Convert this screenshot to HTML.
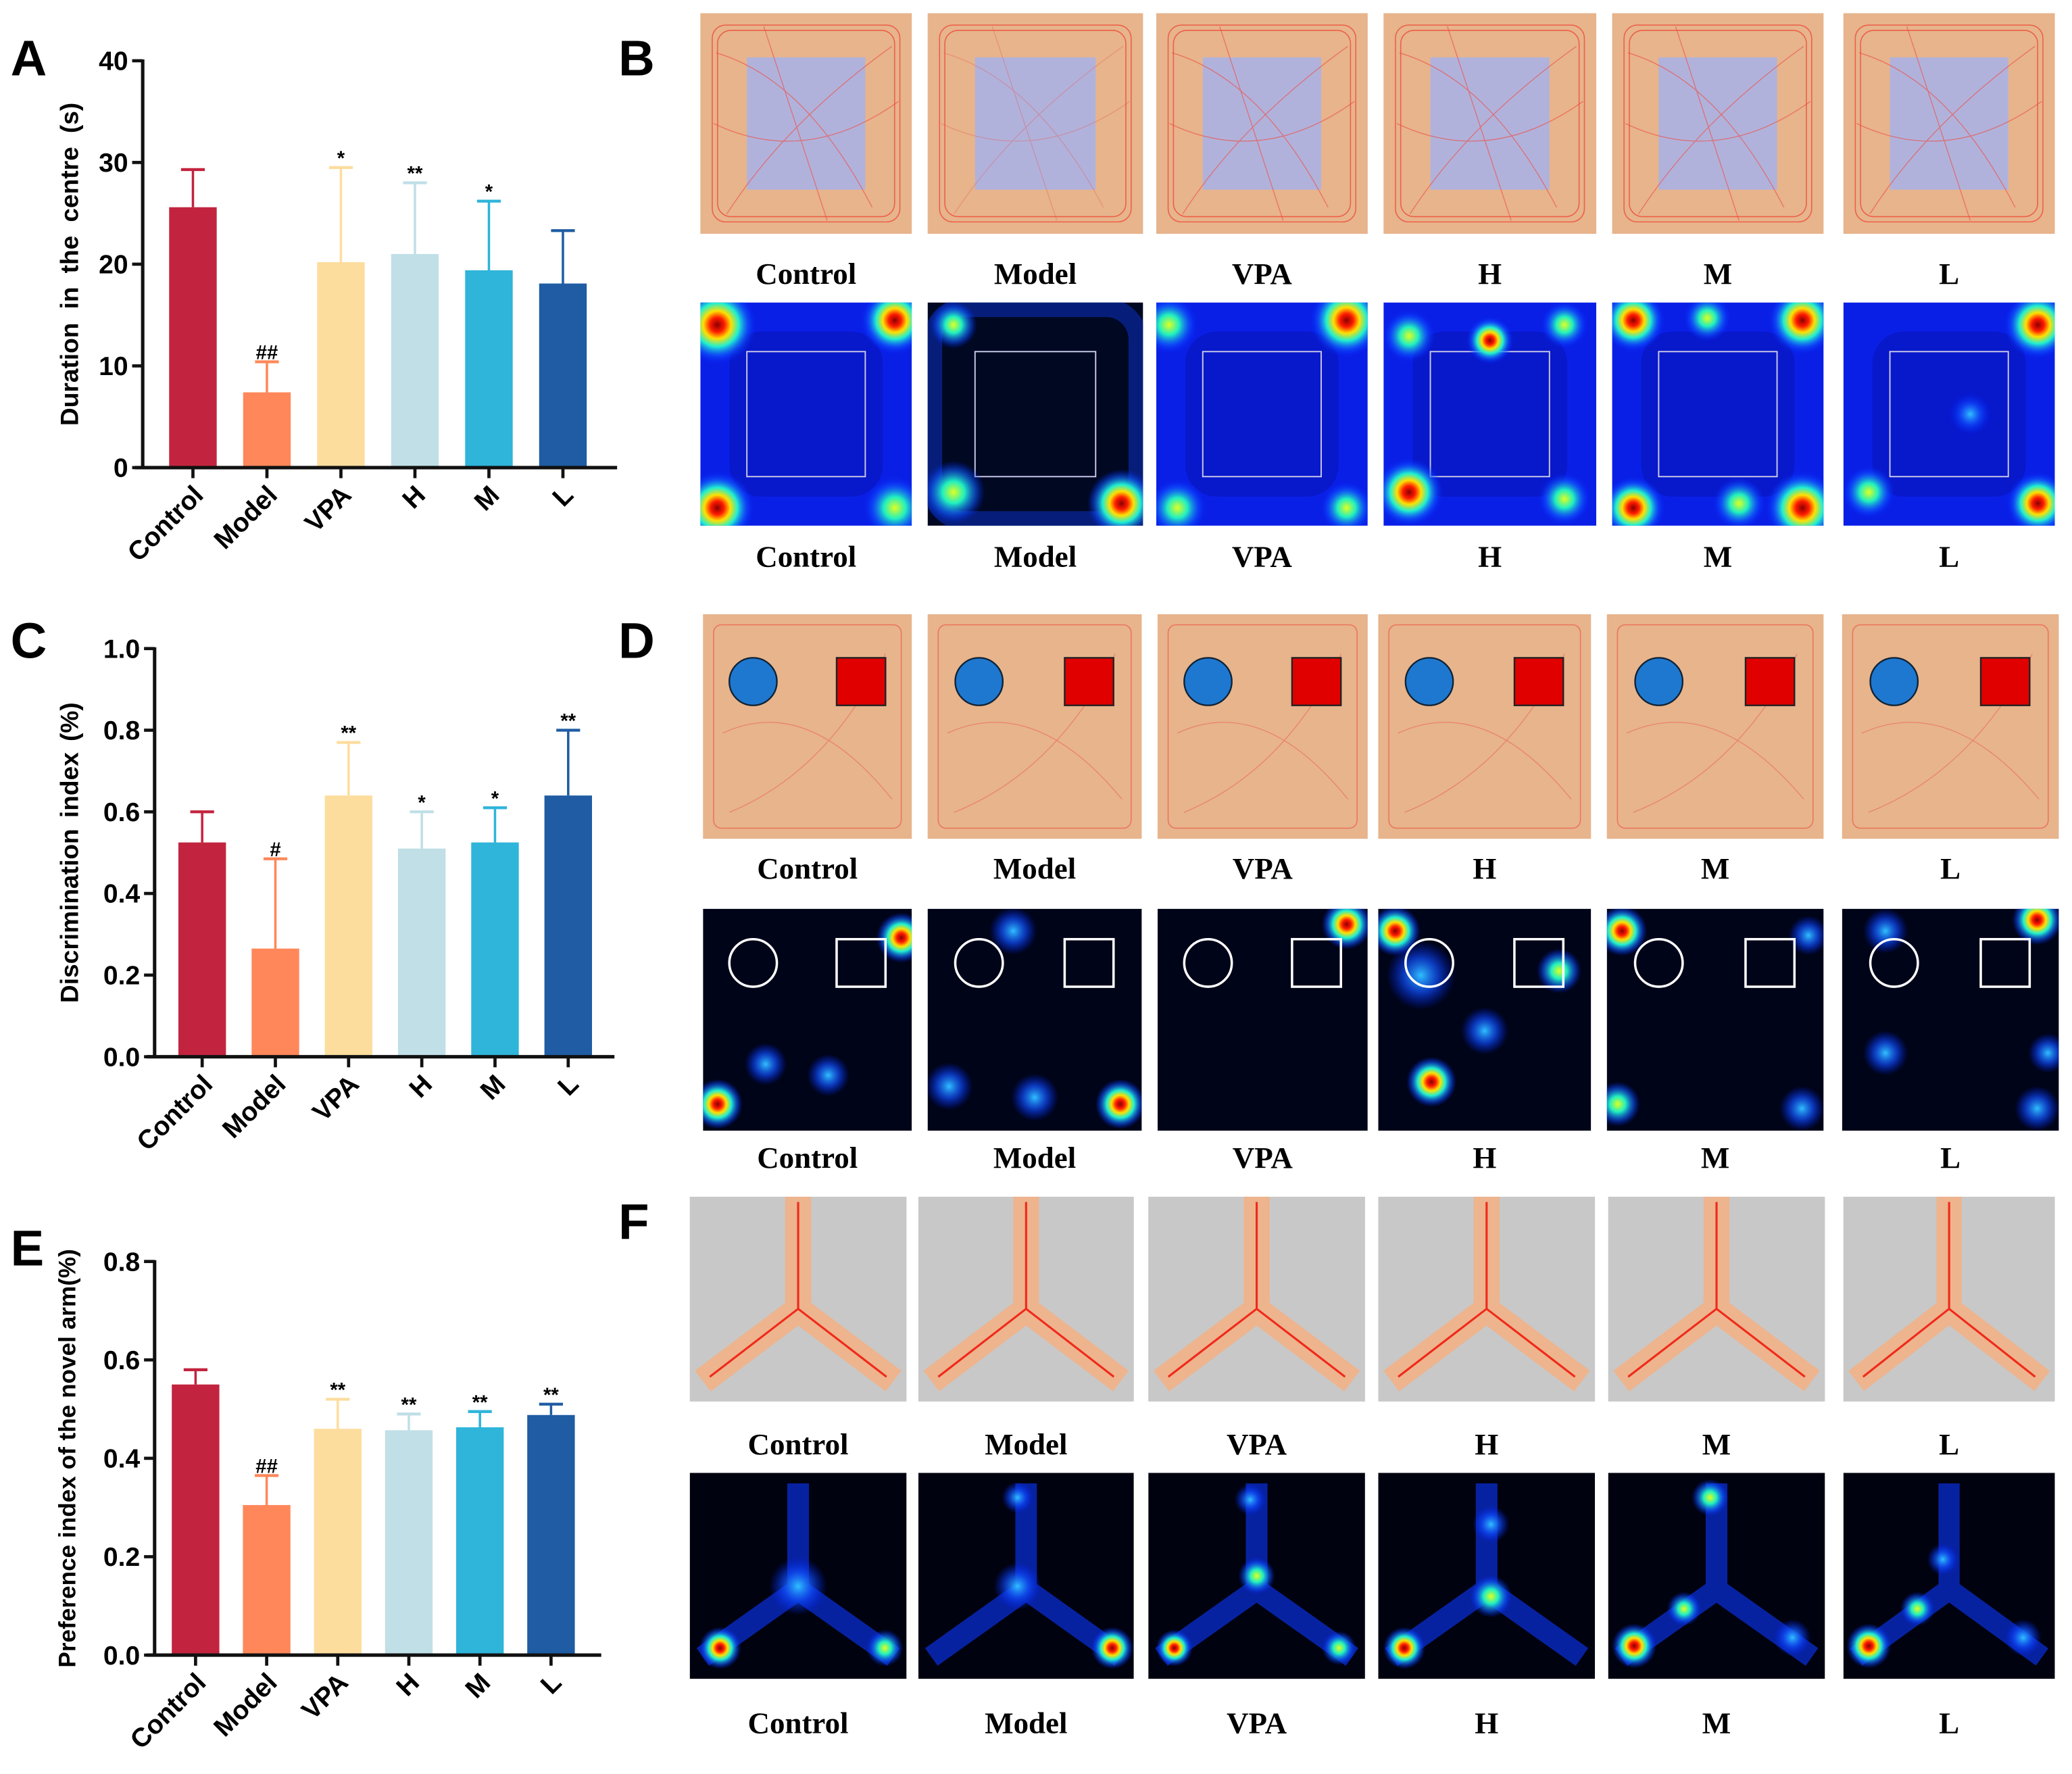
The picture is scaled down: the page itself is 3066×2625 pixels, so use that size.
<!DOCTYPE html>
<html><head><meta charset="utf-8"><style>
html,body{margin:0;padding:0;background:#fff}
svg{display:block}
text{font-family:"Liberation Sans",Arial,sans-serif}
.ser{font-family:"Liberation Serif","Times New Roman",serif;font-weight:bold}
</style></head><body>
<svg id="fig" width="3066" height="2625" viewBox="0 0 1568 1343" preserveAspectRatio="none" xmlns="http://www.w3.org/2000/svg">
<defs>
<radialGradient id="hot">
<stop offset="0" stop-color="#8b0000"/><stop offset="0.18" stop-color="#ff1a00"/><stop offset="0.35" stop-color="#ffe000"/><stop offset="0.55" stop-color="#20f0d0"/><stop offset="0.78" stop-color="#1060ff" stop-opacity="0.6"/><stop offset="1" stop-color="#0020ff" stop-opacity="0"/>
</radialGradient>
<radialGradient id="warm">
<stop offset="0" stop-color="#e0ff20"/><stop offset="0.35" stop-color="#20f0c0"/><stop offset="0.7" stop-color="#1060ff" stop-opacity="0.6"/><stop offset="1" stop-color="#0020ff" stop-opacity="0"/>
</radialGradient>
<radialGradient id="cool">
<stop offset="0" stop-color="#30c0ff"/><stop offset="0.5" stop-color="#1050ff" stop-opacity="0.7"/><stop offset="1" stop-color="#0020ff" stop-opacity="0"/>
</radialGradient>
</defs>
<g id="charts"></g>
<g id="images"></g>
</svg>
<script>
const NS='http://www.w3.org/2000/svg';
const categories=['Control','Model','VPA','H','M','L'];
const colors=['#C2243F','#FF875A','#FDDD9E','#C0DFE6','#2FB4DA','#1F5CA3'];
const aMeans=[25.6,7.4,20.2,21.0,19.4,18.1];
const aErr=[29.3,10.4,29.5,28.0,26.2,23.3];
const aSig=['','##','*','**','*',''];
const aTicks=[0,10,20,30,40];
const cMeans=[0.525,0.265,0.64,0.51,0.525,0.64];
const cErr=[0.60,0.485,0.77,0.60,0.61,0.80];
const cSig=['','#','**','*','*','**'];
const cTicks=[0,0.2,0.4,0.6,0.8,1.0];
const cTickLabels=['0.0','0.2','0.4','0.6','0.8','1.0'];
const eMeans=[0.55,0.305,0.46,0.457,0.463,0.488];
const eErr=[0.58,0.365,0.52,0.49,0.495,0.51];
const eSig=['','##','**','**','**','**'];
const eTicks=[0,0.2,0.4,0.6,0.8];
const eTickLabels=['0.0','0.2','0.4','0.6','0.8'];

function mk(tag,attrs,parent){const e=document.createElementNS(NS,tag);for(const k in attrs)e.setAttribute(k,attrs[k]);if(parent)parent.appendChild(e);return e;}
const charts=document.getElementById('charts');

function barChart(o){
  const g=mk('g',{},charts);
  
  
  const y=v=>o.y0-(v-o.min)/(o.max-o.min)*(o.y0-o.y1);
  const x=i=>o.x0+o.first+i*o.step;
  o.means.forEach((m,i)=>{
    const cx=x(i);
    const eb=mk('line',{x1:cx,x2:cx,y1:y(m),y2:y(o.err[i]),stroke:colors[i],'stroke-width':1.8},g);
    
    
    const cap=mk('line',{x1:cx-9,x2:cx+9,y1:y(o.err[i]),y2:y(o.err[i]),stroke:colors[i],'stroke-width':2.2},g);
    
    
    const r=mk('rect',{x:cx-o.bw/2,y:y(m),width:o.bw,height:o.y0-y(m),fill:colors[i]},g);
    
    
    if(o.sig[i]){const t=mk('text',{x:cx,y:y(o.err[i])-2,'text-anchor':'middle','font-size':15,'font-weight':'bold'},g);t.textContent=o.sig[i];
      
      }
    const tk=mk('line',{x1:cx,x2:cx,y1:o.y0,y2:o.y0+8,stroke:'#111','stroke-width':2.4},g);
    
    
    const lx=cx+9,ly=o.y0+22;
    const t=mk('text',{x:lx,y:ly,'text-anchor':'end','font-size':20,'font-weight':'bold',transform:`rotate(-45 ${lx} ${ly})`},g);
    t.textContent=categories[i];
    
    
  });
  const ya=mk('line',{x1:o.x0,x2:o.x0,y1:o.y1-1,y2:o.y0+1,stroke:'#111','stroke-width':2.6},g);
  
  
  const xa=mk('line',{x1:o.x0-6,x2:o.xEnd,y1:o.y0,y2:o.y0,stroke:'#111','stroke-width':2.6},g);
  
  
  o.ticks.forEach((v,i)=>{
    const tl=mk('line',{x1:o.x0-8,x2:o.x0,y1:y(v),y2:y(v),stroke:'#111','stroke-width':2.4},g);
    
    
    const t=mk('text',{x:o.x0-11,y:y(v)+7,'text-anchor':'end','font-size':20,'font-weight':'bold'},g);
    t.textContent=o.labels[i];
    
    
  });
  const cy=(o.y0+o.y1)/2;
  const tt=mk('text',{x:o.tx,y:cy,'text-anchor':'middle','font-size':o.tfs||19,'font-weight':'bold','word-spacing':o.ws||0,transform:`rotate(-90 ${o.tx} ${cy})`},g);
  tt.textContent=o.title;
  
  
}
barChart({name:'chart-a',means:aMeans,err:aErr,sig:aSig,ticks:aTicks,labels:aTicks.map(String),min:0,max:40,x0:108,xEnd:467,y0:354,y1:46,first:38,step:56,bw:36,title:'Duration  in  the  centre (s)',tx:59,ws:5});
barChart({name:'chart-c',means:cMeans,err:cErr,sig:cSig,ticks:cTicks,labels:cTickLabels,min:0,max:1,x0:117,xEnd:465,y0:800,y1:491,first:36,step:55.4,bw:36,title:'Discrimination  index (%)',tx:59,ws:3});
barChart({name:'chart-e',means:eMeans,err:eErr,sig:eSig,ticks:eTicks,labels:eTickLabels,min:0,max:0.8,x0:117,xEnd:455,y0:1253,y1:955,first:31,step:53.8,bw:36,title:'Preference index of the novel arm(%)',tx:57,tfs:18});

[['A',8,57],['B',468,57],['C',8,498],['D',468,498],['E',8,958],['F',468,938]].forEach(p=>{
  const t=mk('text',{x:p[1],y:p[2],'font-size':38,'font-weight':'bold'},charts);t.textContent=p[0];
  
  
});

const imgs=document.getElementById('images');
function label(txt,x,y){const t=mk('text',{x:x,y:y,'text-anchor':'middle','font-size':23,class:'ser'},imgs);t.textContent=txt;
  
  }
const bx=[[530,690],[702,865],[875,1035],[1047,1208],[1220,1380],[1395,1555]];
bx.forEach((b,i)=>{
  const g=mk('g',{},imgs);
  
  
  const w=b[1]-b[0],h=167,x=b[0],y=10;
  mk('rect',{x:x,y:y,width:w,height:h,fill:'#E7B48C'},g);
  mk('rect',{x:x+w*0.22,y:y+h*0.2,width:w*0.56,height:h*0.6,fill:'#B1B2DC'},g);
  for(let k=0;k<2;k++){mk('rect',{x:x+9+k*4,y:y+9+k*4,width:w-18-k*8,height:h-18-k*8,rx:10,fill:'none',stroke:'#f03a2a','stroke-width':0.8,opacity:0.7},g);}
  mk('path',{d:`M${x+12} ${y+30} Q${x+w*0.5} ${y+h*0.3} ${x+w-30} ${y+h-20} M${x+20} ${y+h-15} Q${x+w*0.4} ${y+h*0.5} ${x+w-15} ${y+25} M${x+w*0.3} ${y+10} L${x+w*0.6} ${y+h-10} M${x+10} ${y+h*0.5} Q${x+w*0.5} ${y+h*0.7} ${x+w-10} ${y+h*0.4}`,stroke:'#f04a3a','stroke-width':0.7,fill:'none',opacity:i==1?0.3:0.6},g);
  label(categories[i],(b[0]+b[1])/2,215);
});
const bHeat=[[[0.08,0.1,'hot',30],[0.92,0.08,'hot',26],[0.08,0.92,'hot',28],[0.92,0.92,'warm',24]],
 [[0.12,0.1,'warm',18],[0.12,0.85,'warm',24],[0.9,0.9,'hot',26]],
 [[0.06,0.1,'warm',22],[0.9,0.08,'hot',28],[0.1,0.92,'warm',22],[0.9,0.92,'warm',20]],
 [[0.12,0.15,'warm',20],[0.5,0.17,'hot',18],[0.85,0.1,'warm',18],[0.12,0.85,'hot',26],[0.85,0.88,'warm',20]],
 [[0.1,0.08,'hot',24],[0.45,0.07,'warm',18],[0.9,0.08,'hot',26],[0.1,0.92,'hot',24],[0.9,0.92,'hot',28],[0.6,0.9,'warm',20]],
 [[0.92,0.1,'hot',26],[0.12,0.85,'warm',20],[0.92,0.9,'hot',24],[0.6,0.5,'cool',16]]];
function heatPanel(b,y,h,blobs,bg,name,extra){
  const g=mk('g',{},imgs);
  
  
  const w=b[1]-b[0],x=b[0];
  mk('clipPath',{id:'clip-'+name},g).appendChild(mk('rect',{x:x,y:y,width:w,height:h}));
  const inner=mk('g',{'clip-path':`url(#clip-${name})`},g);
  mk('rect',{x:x,y:y,width:w,height:h,fill:bg},inner);
  if(extra) extra(inner,x,y,w,h);
  blobs.forEach(bl=>{mk('circle',{cx:x+bl[0]*w,cy:y+bl[1]*h,r:bl[3],fill:`url(#${bl[2]})`},inner);});
  return inner;
}
bx.forEach((b,i)=>{
  heatPanel(b,229,169,bHeat[i],i==1?'#000822':'#0a1fe6','open-field-heatmap-'+categories[i].toLowerCase(),(g,x,y,w,h)=>{
    if(i!=1) mk('rect',{x:x+22,y:y+22,width:w-44,height:h-44,fill:'#0612b0',opacity:0.5,rx:24},g);
    if(i==1) mk('rect',{x:x+4,y:y+4,width:w-8,height:h-8,rx:24,fill:'none',stroke:'#0828a0','stroke-width':14,opacity:0.7},g);
    mk('rect',{x:x+w*0.22,y:y+h*0.22,width:w*0.56,height:h*0.56,fill:'none',stroke:'#c8c8e8','stroke-width':1},g);
  });
  label(categories[i],(b[0]+b[1])/2,429);
});
const dx=[[532,690],[702,864],[876,1035],[1043,1204],[1216,1380],[1394,1558]];
dx.forEach((b,i)=>{
  const g=mk('g',{},imgs);
  
  
  const w=b[1]-b[0],x=b[0],y=465,h=170;
  mk('rect',{x:x,y:y,width:w,height:h,fill:'#E7B48C'},g);
  mk('rect',{x:x+8,y:y+8,width:w-16,height:h-16,rx:6,fill:'none',stroke:'#f04a3a','stroke-width':0.8,opacity:0.6},g);
  mk('path',{d:`M${x+15} ${y+90} Q${x+w*0.5} ${y+60} ${x+w-15} ${y+140} M${x+20} ${y+h-20} Q${x+w*0.6} ${y+h*0.7} ${x+w-20} ${y+30}`,stroke:'#f04a3a','stroke-width':0.6,fill:'none',opacity:0.5},g);
  mk('circle',{cx:x+0.24*w,cy:y+51,r:18,fill:'#1E78D0',stroke:'#123','stroke-width':1.2},g);
  mk('rect',{x:x+0.64*w,y:y+33,width:37,height:36,fill:'#E00000',stroke:'#222','stroke-width':1.2},g);
  label(categories[i],(b[0]+b[1])/2,665);
});
const dHeat=[[[0.95,0.13,'hot',19],[0.07,0.88,'hot',19],[0.3,0.7,'cool',16],[0.6,0.75,'cool',16]],
 [[0.9,0.88,'hot',19],[0.1,0.8,'cool',18],[0.5,0.85,'cool',18],[0.4,0.1,'cool',18]],
 [[0.9,0.07,'hot',19]],
 [[0.08,0.1,'hot',19],[0.85,0.28,'warm',17],[0.25,0.78,'hot',19],[0.2,0.3,'cool',26],[0.5,0.55,'cool',18]],
 [[0.07,0.1,'hot',19],[0.93,0.12,'cool',15],[0.05,0.88,'warm',17],[0.9,0.9,'cool',17]],
 [[0.9,0.05,'hot',19],[0.2,0.1,'cool',17],[0.95,0.65,'cool',15],[0.9,0.9,'cool',17],[0.2,0.65,'cool',17]]];
dx.forEach((b,i)=>{
  heatPanel(b,688,168,dHeat[i],'#000418','object-recognition-heatmap-'+categories[i].toLowerCase(),null);
  const w=b[1]-b[0],x=b[0];
  mk('circle',{cx:x+0.24*w,cy:729,r:18,fill:'none',stroke:'#fff','stroke-width':1.8},imgs);
  mk('rect',{x:x+0.64*w,y:711,width:37,height:36,fill:'none',stroke:'#fff','stroke-width':1.8},imgs);
  label(categories[i],(b[0]+b[1])/2,884);
});
const fx=[[522,686],[695,858],[869,1033],[1043,1207],[1217,1381],[1395,1555]];
function yPath(x,y,w,h){const cx=x+w/2,my=y+h*0.55;return `M${cx} ${y} L${cx} ${my} M${cx} ${my} L${x+w*0.06} ${y+h*0.9} M${cx} ${my} L${x+w*0.94} ${y+h*0.9}`;}
fx.forEach((b,i)=>{
  const g=mk('g',{},imgs);
  
  
  const w=b[1]-b[0],x=b[0],y=906,h=155;
  mk('rect',{x:x,y:y,width:w,height:h,fill:'#C8C8C8'},g);
  mk('path',{d:yPath(x,y,w,h),stroke:'#EDB48E','stroke-width':w*0.12,fill:'none','stroke-linejoin':'round'},g);
  mk('path',{d:yPath(x+6,y+4,w-12,h-8),stroke:'#f02a1a','stroke-width':1.6,fill:'none'},g);
  label(categories[i],(b[0]+b[1])/2,1101);
});
const fHeat=[[[0.14,0.85,'hot',16],[0.9,0.85,'warm',14],[0.5,0.55,'cool',22]],
 [[0.9,0.85,'hot',16],[0.46,0.12,'cool',12],[0.46,0.55,'cool',18]],
 [[0.12,0.85,'hot',14],[0.88,0.85,'warm',13],[0.5,0.5,'warm',14],[0.47,0.13,'cool',12]],
 [[0.12,0.85,'hot',16],[0.52,0.6,'warm',16],[0.52,0.25,'cool',14]],
 [[0.12,0.84,'hot',17],[0.47,0.12,'warm',14],[0.35,0.66,'warm',13],[0.85,0.8,'cool',14]],
 [[0.12,0.84,'hot',17],[0.35,0.66,'warm',13],[0.85,0.8,'cool',14],[0.47,0.42,'cool',12]]];
fx.forEach((b,i)=>{
  heatPanel(b,1115,156,fHeat[i],'#00020f','y-maze-heatmap-'+categories[i].toLowerCase(),(g,x,y,w,h)=>{
    mk('path',{d:yPath(x,y+8,w,h-10),stroke:'#0a30e0','stroke-width':w*0.1,fill:'none',opacity:0.7,'stroke-linejoin':'round'},g);
  });
  label(categories[i],(b[0]+b[1])/2,1312);
});
</script>
</body></html>
